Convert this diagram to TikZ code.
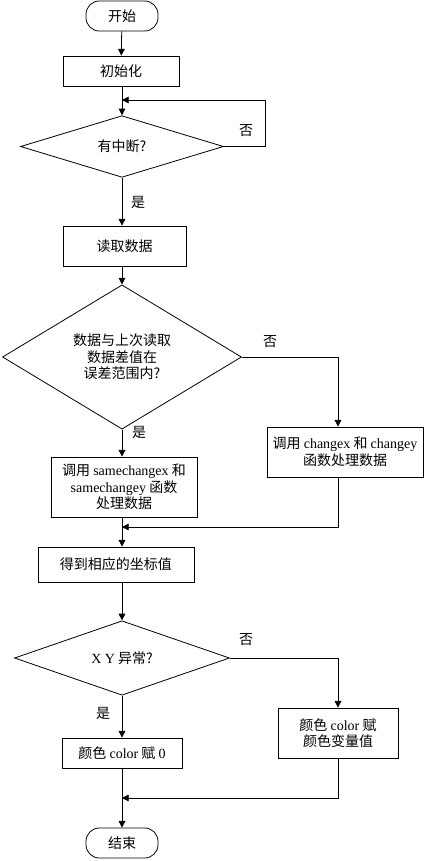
\documentclass[tikz,border=0pt]{standalone}
\usepackage{fontspec}
\setmainfont{Liberation Serif}
\newfontfamily\zh{Noto Sans CJK SC}
\newcommand{\latn}[1]{{\rmfamily #1}}
\usetikzlibrary{shapes.geometric,arrows.meta}
\begin{document}
\begin{tikzpicture}[x=0.75pt,y=-0.75pt,>={Triangle[length=5pt,width=5pt]},line width=0.6pt,
    every node/.style={font=\zh\fontsize{10.5}{12.5}\selectfont,align=center,inner sep=0pt},
    term/.style={draw,rounded corners=10pt,minimum width=54pt,minimum height=22.5pt},
    box/.style={draw,minimum height=22.5pt},
    test/.style={draw,diamond,minimum width=#1},
    arr/.style={->}]
    \useasboundingbox (0,0) rectangle (424,861);
    % 节点
    \node[term] (start) at (122,16) {开始};
    \node[box,minimum width=87pt] (init) at (121,71) {初始化};
    \node[test=152.25pt,minimum height=44.25pt] (dia1) at (122,146.5) {有中断?};
    \node[box,minimum width=92.25pt,minimum height=30pt] (read) at (124.5,246) {读取数据};
    \node[test=179.25pt,minimum height=75pt] (dia2) at (122,357) {数据与上次读取\\数据差值在\\误差范围内?};
    \node[box,minimum width=117pt,minimum height=37.5pt] (chg) at (345,452) {调用 \latn{changex} 和 \latn{changey}\\函数处理数据};
    \node[box,minimum width=109.5pt,minimum height=45pt] (same) at (124,487) {调用 \latn{samechangex} 和\\\latn{samechangey} 函数\\处理数据};
    \node[box,minimum width=117pt,minimum height=26.25pt] (coord) at (116,564.5) {得到相应的坐标值};
    \node[test=161.25pt,minimum height=45pt] (dia3) at (122,658) {\latn{X Y} 异常?};
    \node[box,minimum width=90pt,minimum height=37.5pt] (colv) at (338,733) {颜色 \latn{color} 赋\\颜色变量值};
    \node[box,minimum width=90pt] (col0) at (122,753) {颜色 \latn{color} 赋 \latn{0}};
    \node[term] (stop) at (122,843) {结束};
    % 标注
    \node (n1) at (246,131) {否};
    \node (y1) at (138,202) {是};
    \node (n2) at (270,342) {否};
    \node (y2) at (139,432) {是};
    \node (n3) at (246,640) {否};
    \node (y3) at (103,713) {是};
    % 辅助点
    \coordinate (lp) at (265,100);
    \coordinate (mL) at (122,100);
    \coordinate (rx) at (338,0);
    \coordinate (mA) at (122,527);
    \coordinate (mB) at (122,798);
    % 连线
    \draw[arr] (start) -- (init);
    \draw[arr] (init.south -| dia1.north) -- (dia1);
    \draw[arr] (dia1.east) -| (lp) -- (mL);
    \draw[arr] (dia1.south) -- (dia1.south |- read.north);
    \draw[arr] (read.south -| dia2.north) -- (dia2);
    \draw[arr] (dia2.east) -| (rx |- chg.north);
    \draw[arr] (dia2.south) -- (dia2.south |- same.north);
    \draw[arr] (rx |- chg.south) |- (mA);
    \draw[arr] (same.south -| dia2.south) -- (dia2.south |- coord.north);
    \draw[arr] (dia3.north |- coord.south) -- (dia3);
    \draw[arr] (dia3.east) -| (colv);
    \draw[arr] (dia3) -- (col0);
    \draw[arr] (colv) |- (mB);
    \draw[arr] (col0) -- (stop);
\end{tikzpicture}
\end{document}
